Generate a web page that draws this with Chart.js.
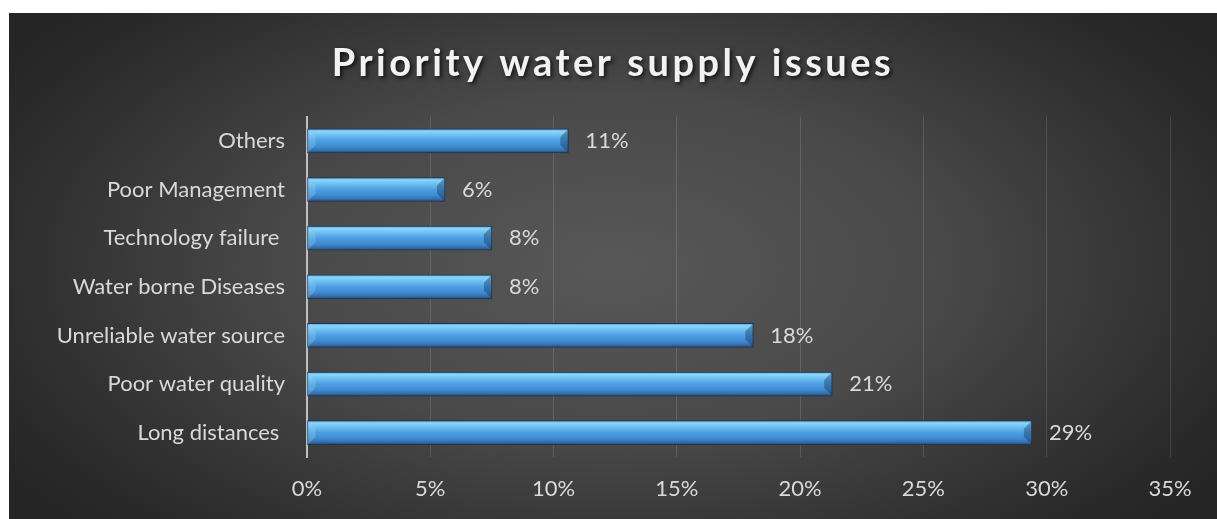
<!DOCTYPE html>
<html>
<head>
<meta charset="utf-8">
<script src="https://cdn.jsdelivr.net/npm/chart.js@4/dist/chart.umd.min.js"></script>
<style>
  html, body { margin: 0; padding: 0; background: #fff; }
  #frame {
    position: absolute;
    left: 9px;
    top: 13px;
    width: 1208px;
    height: 506px;
    background: radial-gradient(ellipse 60% 75% at 50% 50%, #585858 0%, #494949 45%, #2d2d2d 85%, #252525 100%);
  }
  #chart { display: block; }
</style>
</head>
<body>
<div id="frame"><canvas id="chart" width="1208" height="506"></canvas></div>
<script>
// данные с картинки (сверху вниз)
const categories = [
  "Others",
  "Poor Management",
  "Technology failure ",
  "Water borne Diseases",
  "Unreliable water source",
  "Poor water quality",
  "Long distances ",
];
const shares = [0.106, 0.056, 0.075, 0.075, 0.181, 0.213, 0.294];
const shareLabels = ["11%", "6%", "8%", "8%", "18%", "21%", "29%"];
const xTicks = [0, 0.05, 0.1, 0.15, 0.2, 0.25, 0.3, 0.35];

const FONT = "Lato, 'Open Sans', sans-serif";
const TEXT_COLOR = "#d9d9d9";
const FONT_SIZE = 22;
const BAR_HEIGHT = 24;

// градиент для "объемных" столбцов
function barFill(ctx) {
  const chart = ctx.chart;
  const yScale = chart.scales.y;
  if (!yScale || ctx.dataIndex === undefined) return "#4a9be0";
  const cy = yScale.getPixelForValue(ctx.dataIndex);
  if (!Number.isFinite(cy)) return "#4a9be0";
  const top = cy - BAR_HEIGHT / 2;
  const g = chart.ctx.createLinearGradient(0, top, 0, top + BAR_HEIGHT);
  g.addColorStop(0, "#4f9fdc");
  g.addColorStop(0.1, "#8dd5fb");
  g.addColorStop(0.25, "#6fc2f3");
  g.addColorStop(0.5, "#4c9fe0");
  g.addColorStop(0.75, "#4089d0");
  g.addColorStop(0.9, "#346ea9");
  g.addColorStop(1, "#22476d");
  return g;
}

// подписи значений справа от столбцов
const valueLabels = {
  id: "valueLabels",
  afterDatasetsDraw(chart) {
    const { ctx } = chart;
    const meta = chart.getDatasetMeta(0);
    ctx.save();
    ctx.font = `${FONT_SIZE}px ${FONT}`;
    ctx.fillStyle = TEXT_COLOR;
    ctx.textAlign = "left";
    ctx.textBaseline = "middle";
    meta.data.forEach((bar, i) => {
      ctx.fillText(shareLabels[i], bar.x + 17, bar.y);
    });
    ctx.restore();
  },
};

// скосы на концах столбцов
const bevels = {
  id: "bevels",
  afterDatasetsDraw(chart) {
    const { ctx } = chart;
    const meta = chart.getDatasetMeta(0);
    ctx.save();
    meta.data.forEach((bar) => {
      const top = bar.y - BAR_HEIGHT / 2;
      const bottom = bar.y + BAR_HEIGHT / 2;
      const b = 8;
      ctx.fillStyle = "rgba(20, 50, 90, 0.4)";
      ctx.beginPath();
      ctx.moveTo(bar.x, top);
      ctx.lineTo(bar.x, bottom);
      ctx.lineTo(bar.x - b, bottom - b);
      ctx.lineTo(bar.x - b, top + b);
      ctx.closePath();
      ctx.fill();
      ctx.fillStyle = "rgba(150, 215, 250, 0.3)";
      ctx.beginPath();
      ctx.moveTo(bar.base, top);
      ctx.lineTo(bar.base + b, top + b);
      ctx.lineTo(bar.base + b, bottom - b);
      ctx.lineTo(bar.base, bottom);
      ctx.closePath();
      ctx.fill();
    });
    ctx.restore();
  },
};

// разрядка и тень для заголовка
const titleStyle = {
  id: "titleStyle",
  beforeDraw(chart) {
    const block = chart.titleBlock;
    if (!block || block._styled) return;
    const origDraw = block.draw;
    block.draw = function (...args) {
      const ctx = this.ctx;
      ctx.save();
      ctx.letterSpacing = "3.5px";
      ctx.shadowColor = "rgba(0, 0, 0, 0.75)";
      ctx.shadowBlur = 4;
      ctx.shadowOffsetX = 2;
      ctx.shadowOffsetY = 2;
      origDraw.apply(this, args);
      ctx.restore();
    };
    block._styled = true;
  },
};

const chart = new Chart(document.getElementById("chart"), {
  type: "bar",
  data: {
    labels: categories,
    datasets: [
      {
        data: shares,
        backgroundColor: barFill,
        borderColor: "#1d3653",
        borderWidth: 1,
        borderSkipped: false,
        barThickness: BAR_HEIGHT,
      },
    ],
  },
  options: {
    indexAxis: "y",
    responsive: false,
    animation: false,
    layout: {
      padding: { left: 47, right: 47, top: 0, bottom: 16.6 },
    },
    scales: {
      x: {
        min: 0,
        max: 0.35,
        afterBuildTicks: (scale) => {
          scale.ticks = xTicks.map((v) => ({ value: v }));
        },
        afterFit: (scale) => {
          scale.height = 45.4;
        },
        grid: {
          color: "rgba(255, 255, 255, 0.13)",
          lineWidth: 1,
          drawTicks: false,
        },
        border: { display: false },
        ticks: {
          padding: 19,
          maxRotation: 0,
          color: TEXT_COLOR,
          font: { family: FONT, size: FONT_SIZE },
          callback: (v) => Math.round(v * 100) + "%",
        },
      },
      y: {
        afterFit: (scale) => {
          scale.width = 251;
        },
        grid: { display: false, drawTicks: false },
        border: { display: true, color: "#bfbfbf", width: 2 },
        ticks: {
          padding: 22,
          color: TEXT_COLOR,
          font: { family: FONT, size: FONT_SIZE },
        },
      },
    },
    plugins: {
      legend: { display: false },
      tooltip: { enabled: false },
      title: {
        display: true,
        text: "Priority water supply issues",
        color: "#f2f2f2",
        font: { family: FONT, size: 38, weight: "bold" },
        padding: { top: 28, bottom: 30 },
      },
    },
  },
  plugins: [valueLabels, bevels, titleStyle],
});
</script>
</body>
</html>
